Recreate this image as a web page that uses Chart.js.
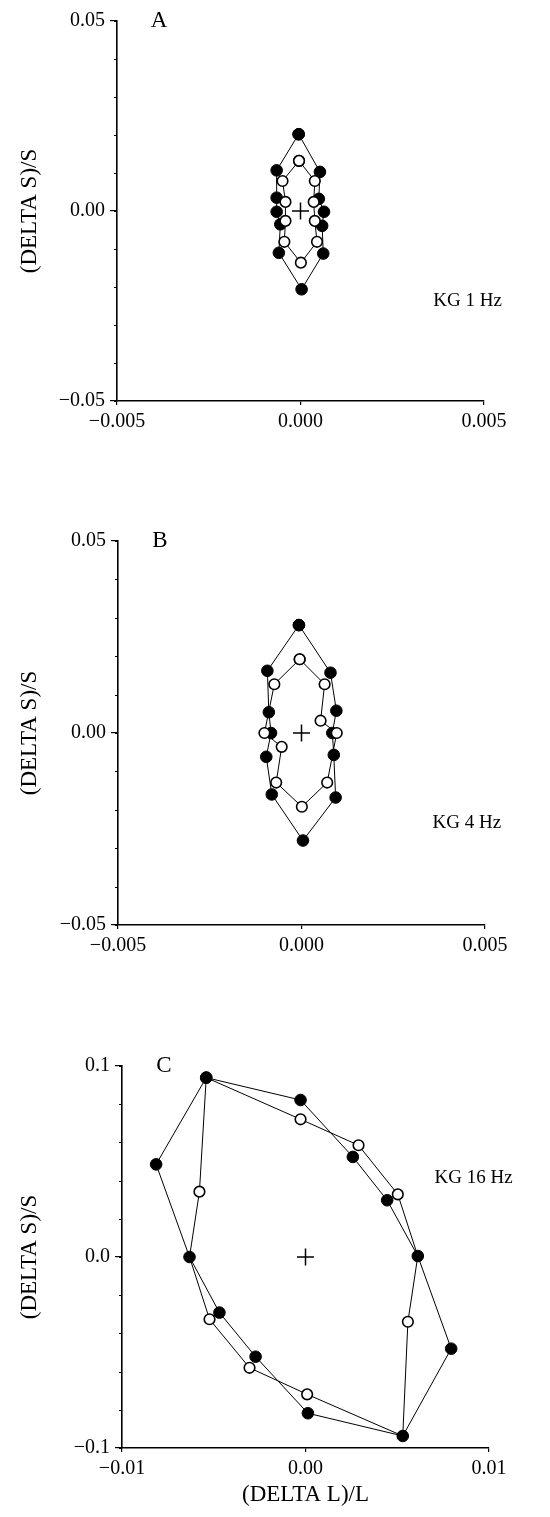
<!DOCTYPE html>
<html>
<head>
<meta charset="utf-8">
<script src="https://cdn.jsdelivr.net/npm/chart.js@4.4.1/dist/chart.umd.min.js"></script>
<style>
  body { margin: 0; background: #fff; }
  .panel { position: absolute; left: 0; }
</style>
</head>
<body>
<canvas id="panelA" class="panel" style="top:0px"></canvas>
<canvas id="panelB" class="panel" style="top:500px"></canvas>
<canvas id="panelC" class="panel" style="top:1000px"></canvas>
<script>
// KG 1 Hz  -- (delta L)/L and (delta S)/S, loops listed in drawing order
const hz1FilledL = [-0.00005, 0.00053, 0.0005, 0.00064, 0.00059, 0.00062, 0.00003, -0.00059, -0.00055, -0.00065, -0.00065, -0.00065];
const hz1FilledS = [0.0202, 0.0103, 0.0032, -0.0002, -0.0039, -0.0112, -0.0206, -0.011, -0.0035, -0.0002, 0.0035, 0.0107];
const hz1OpenL = [-0.00004, 0.00039, 0.00036, 0.00039, 0.00045, 0.00001, -0.00044, -0.00041, -0.00041, -0.00049];
const hz1OpenS = [0.0132, 0.0079, 0.0024, -0.0026, -0.0081, -0.0136, -0.0081, -0.0026, 0.0024, 0.0079];

// KG 4 Hz
const hz4FilledL = [-0.00007, 0.00079, 0.00095, 0.00084, 0.00088, 0.00093, 0.00004, -0.00081, -0.00096, -0.00083, -0.00089, -0.00093];
const hz4FilledS = [0.0281, 0.0157, 0.0058, 0.0, -0.0057, -0.0168, -0.028, -0.016, -0.0062, 0.0, 0.0054, 0.0162];
const hz4OpenL = [-0.00005, 0.00063, 0.00052, 0.00096, 0.0007, 0.00001, -0.00069, -0.00054, -0.00101, -0.00074];
const hz4OpenS = [0.0192, 0.0127, 0.0032, 0.0, -0.0129, -0.0192, -0.0129, -0.0036, 0.0, 0.0127];

// KG 16 Hz
const hz16FilledL = [-0.00541, -0.00027, 0.00258, 0.00445, 0.00612, 0.00794, 0.0053, 0.00013, -0.00272, -0.00469, -0.00632, -0.00814];
const hz16FilledS = [0.0939, 0.0822, 0.0524, 0.0297, 0.0005, -0.048, -0.0937, -0.0818, -0.0522, -0.0291, 0.0, 0.0485];
const hz16OpenL = [-0.00541, -0.00027, 0.00289, 0.00503, 0.00612, 0.00558, 0.0053, 0.00009, -0.00305, -0.00523, -0.00632, -0.00578];
const hz16OpenS = [0.0939, 0.0721, 0.0585, 0.0328, 0.0005, -0.0339, -0.0937, -0.0719, -0.058, -0.0326, 0.0, 0.0342];

// origin marker
const originL = [0];
const originS = [0];

const SERIF = '"Liberation Serif", "DejaVu Serif", serif';

// close the loop by returning to the first point
function loop(xs, ys) {
  const pts = xs.map((x, i) => ({ x: x, y: ys[i] }));
  pts.push(pts[0]);
  return pts;
}

function fmt(digits) {
  return (v) => {
    if (Math.abs(v) < 1e-9) v = 0;
    return (v < 0 ? "\u2212" : "") + Math.abs(v).toFixed(digits);
  };
}

// short unlabeled ticks on the left axis
const minorTicks = {
  id: "minorTicks",
  afterDraw(chart, args, opts) {
    const y = chart.scales.y;
    const ctx = chart.ctx;
    ctx.save();
    ctx.strokeStyle = "#000";
    ctx.lineWidth = 1;
    const n = Math.round((y.max - y.min) / opts.step);
    for (let i = 0; i <= n; i++) {
      const py = Math.round(y.getPixelForValue(y.min + i * opts.step)) + 0.5;
      ctx.beginPath();
      ctx.moveTo(y.right - 3, py);
      ctx.lineTo(y.right, py);
      ctx.stroke();
    }
    ctx.restore();
  },
};

// panel letter and frequency note
const panelText = {
  id: "panelText",
  afterDraw(chart, args, opts) {
    const { ctx, chartArea, scales } = chart;
    ctx.save();
    ctx.fillStyle = "#000";
    ctx.textBaseline = "alphabetic";
    ctx.font = "23px " + SERIF;
    ctx.textAlign = "center";
    ctx.fillText(opts.letter, chartArea.left + 42, chartArea.top + 6);
    ctx.font = "19px " + SERIF;
    ctx.textAlign = "left";
    ctx.fillText(
      opts.note,
      scales.x.getPixelForValue(opts.noteAt[0]),
      scales.y.getPixelForValue(opts.noteAt[1])
    );
    ctx.restore();
  },
};

function makePanel(id, p) {
  const canvas = document.getElementById(id);
  canvas.width = 550;
  canvas.height = p.height;

  const filled = loop(p.filledL, p.filledS);
  const filledKey = new Set(filled.map((d) => d.x + "," + d.y));

  return new Chart(canvas, {
    type: "scatter",
    data: {
      datasets: [
        {
          data: loop(p.openL, p.openS),
          showLine: true,
          borderColor: "#000",
          borderWidth: 1,
          pointBackgroundColor: "#fff",
          pointBorderColor: "#000",
          pointBorderWidth: 1.6,
          // vertices shared with the filled loop only carry the line
          pointRadius: (c) => (c.raw && filledKey.has(c.raw.x + "," + c.raw.y) && p.hideShared ? 0 : 5.3),
          order: 0,
        },
        {
          data: filled,
          showLine: true,
          borderColor: "#000",
          borderWidth: 1,
          pointBackgroundColor: "#000",
          pointBorderColor: "#000",
          pointBorderWidth: 1,
          pointRadius: 5.8,
          order: 1,
        },
        {
          data: originL.map((x, i) => ({ x: x, y: originS[i] })),
          pointStyle: "cross",
          pointRadius: 8.5,
          pointBorderWidth: 1.5,
          pointBorderColor: "#000",
          order: 2,
        },
      ],
    },
    options: {
      responsive: false,
      animation: false,
      events: [],
      layout: { padding: { left: 0, top: p.top, right: 550 - p.right, bottom: 0 } },
      plugins: {
        legend: { display: false },
        tooltip: { enabled: false },
        minorTicks: { step: p.minorStep },
        panelText: { letter: p.letter, note: p.note, noteAt: p.noteAt },
      },
      scales: {
        x: {
          type: "linear",
          min: p.xMin,
          max: p.xMax,
          afterFit: (s) => { s.height = p.height - p.bottom; },
          ticks: {
            stepSize: p.xStep,
            callback: fmt(p.xDigits),
            color: "#000",
            font: { family: SERIF, size: 20 },
            padding: 5,
            maxRotation: 0,
          },
          grid: { drawOnChartArea: false, tickLength: 4, color: "#000", lineWidth: 1.2 },
          border: { color: "#000", width: 1.6 },
          title: {
            display: !!p.xTitle,
            text: p.xTitle || "",
            color: "#000",
            font: { family: SERIF, size: 23 },
            padding: { top: 0, bottom: 8 },
          },
        },
        y: {
          type: "linear",
          min: p.yMin,
          max: p.yMax,
          afterFit: (s) => { s.width = p.left; },
          ticks: {
            stepSize: p.yStep,
            callback: fmt(p.yDigits),
            color: "#000",
            font: { family: SERIF, size: 20 },
            padding: 5,
          },
          grid: { drawOnChartArea: false, tickLength: 7, color: "#000", lineWidth: 1.2 },
          border: { color: "#000", width: 1.6 },
          title: {
            display: true,
            text: "(DELTA S)/S",
            color: "#000",
            font: { family: SERIF, size: 23 },
            padding: { top: 16, bottom: 0 },
          },
        },
      },
    },
    plugins: [minorTicks, panelText],
  });
}

makePanel("panelA", {
  height: 470, top: 21, bottom: 401, left: 117, right: 484,
  filledL: hz1FilledL, filledS: hz1FilledS, openL: hz1OpenL, openS: hz1OpenS,
  xMin: -0.005, xMax: 0.005, xStep: 0.005, xDigits: 3,
  yMin: -0.05, yMax: 0.05, yStep: 0.05, yDigits: 2, minorStep: 0.01,
  letter: "A", note: "KG 1 Hz", noteAt: [0.00362, -0.025],
});

makePanel("panelB", {
  height: 470, top: 41, bottom: 425, left: 118, right: 485,
  filledL: hz4FilledL, filledS: hz4FilledS, openL: hz4OpenL, openS: hz4OpenS,
  xMin: -0.005, xMax: 0.005, xStep: 0.005, xDigits: 3,
  yMin: -0.05, yMax: 0.05, yStep: 0.05, yDigits: 2, minorStep: 0.01,
  letter: "B", note: "KG 4 Hz", noteAt: [0.00357, -0.0247],
});

makePanel("panelC", {
  height: 517, top: 66, bottom: 448, left: 122, right: 489,
  filledL: hz16FilledL, filledS: hz16FilledS, openL: hz16OpenL, openS: hz16OpenS,
  hideShared: true,
  xMin: -0.01, xMax: 0.01, xStep: 0.01, xDigits: 2,
  yMin: -0.1, yMax: 0.1, yStep: 0.1, yDigits: 1, minorStep: 0.02,
  letter: "C", note: "KG 16 Hz", noteAt: [0.00703, 0.0387],
  xTitle: "(DELTA L)/L",
});
</script>
</body>
</html>
